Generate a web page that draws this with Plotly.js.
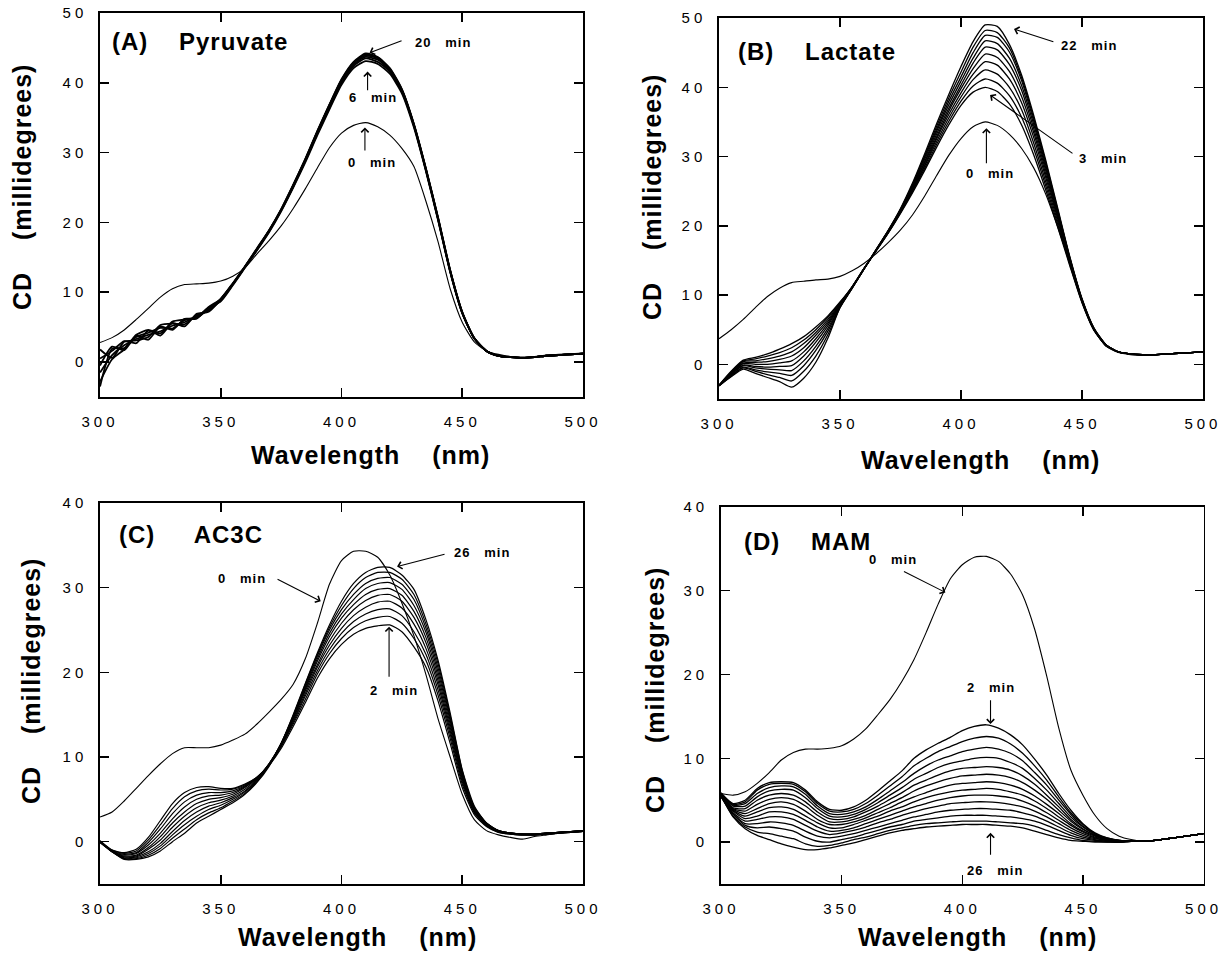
<!DOCTYPE html>
<html><head><meta charset="utf-8">
<script src="https://cdn.plot.ly/plotly-3.0.1.min.js"></script>
<style>
html,body{margin:0;padding:0;background:#fff;}
#chart{width:1226px;height:954px;}
.xaxislayer-above text, .yaxislayer-above text {letter-spacing:4px;}
.annotation-text {letter-spacing:1px;}
</style></head><body><div id="chart"></div><script>
// ---------- DATA ----------
const wavelengthNm = [300,305,310,315,320,325,330,335,340,345,350,355,360,365,370,375,380,385,390,395,400,405,410,415,420,425,430,435,440,445,450,455,460,465,470,475,480,485,490,495,500];
const xTickVals = [300,350,400,450,500];
const xTickText = ['300','350','400','450','500'];
const yTickValsAB = [0,10,20,30,40,50];
const yTickTextAB = ['0','10','20','30','40','50'];
const yTickValsCD = [0,10,20,30,40];
const yTickTextCD = ['0','10','20','30','40'];

// (A) Pyruvate
const pyruvate0min = [2.8,3.5,4.6,6.1,7.7,9.3,10.5,11.1,11.2,11.3,11.6, 12.3,13.5,15.5,17.4,19.5,22.0,24.8,27.8,30.7,32.8, 33.9,34.3,33.7,32.5,30.6,28.0,23.0,17.2,10.5,5.7, 2.9,1.6,1.1,0.8,0.7,0.8,1.0,1.1,1.2,1.3];
const pyruvateRuns = [
 [-2.8,0.4,1.8,3.8,3.2,5.1,4.6,6.2,6.2,7.8,8.7, 11.0,13.5,16.0,18.6,21.6,25.0,28.6,32.5,36.2,39.7, 42.1,43.1,42.7,41.3,38.5,33.6,27.3,20.3,12.9,7.0, 3.4,1.6,0.9,0.7,0.6,0.7,0.9,1.0,1.1,1.2],
 [0.5,1.6,3.0,2.7,4.5,3.8,5.6,5.1,6.9,7.2,9.0, 11.3,13.7,16.1,18.7,21.7,25.1,28.8,32.7,36.4,40.0, 42.4,43.5,43.0,41.6,38.7,33.8,27.4,20.4,13.0,7.0, 3.4,1.6,0.9,0.7,0.6,0.7,0.9,1.0,1.1,1.2],
 [-3.5,1.9,2.0,3.6,4.2,4.9,4.8,6.0,6.3,7.6,9.1, 11.2,13.6,16.1,18.8,21.8,25.2,28.9,32.8,36.6,40.2, 42.6,43.7,43.3,41.8,38.9,33.9,27.5,20.5,13.0,7.1, 3.4,1.6,0.9,0.7,0.6,0.7,0.9,1.0,1.1,1.2],
 [1.8,0.6,2.9,3.1,3.6,5.3,5.5,5.4,6.7,7.5,8.8, 11.1,13.6,16.2,18.8,21.8,25.3,29.0,33.0,36.8,40.3, 42.8,43.9,43.5,41.9,39.0,34.0,27.6,20.6,13.1,7.1, 3.4,1.6,0.9,0.7,0.6,0.7,0.9,1.0,1.1,1.2],
 [-0.5,2.2,1.7,3.9,4.6,4.1,5.8,6.1,6.4,7.9,9.0, 11.2,13.7,16.3,18.9,21.9,25.4,29.1,33.1,36.9,40.5, 43.0,44.2,43.7,42.1,39.1,34.1,27.7,20.7,13.2,7.2, 3.4,1.6,0.9,0.7,0.6,0.7,0.9,1.0,1.1,1.2],
 [-1.5,1.0,2.4,3.3,3.9,4.4,5.2,5.7,6.6,7.4,8.9, 11.2,13.6,16.2,18.8,21.8,25.3,29.0,33.0,36.8,40.4, 42.9,44.1,43.6,42.0,39.0,34.0,27.6,20.6,13.1,7.1, 3.4,1.6,0.9,0.7,0.6,0.7,0.9,1.0,1.1,1.2]
];

// (B) Lactate
const lactate0min = [3.7,5.0,6.5,8.2,9.8,11.0,11.8,12.0,12.2,12.3,12.7, 13.5,14.6,16.0,17.6,19.4,21.6,24.3,27.3,30.2,32.6, 34.3,35.0,34.5,33.2,31.2,28.4,24.6,19.8,14.6,9.3, 5.0,2.6,1.7,1.4,1.3,1.3,1.5,1.6,1.7,1.8];
const lactateRuns = [
 [-3.0,-1.0,0.6,1.0,1.5,2.2,3.0,4.0,5.4,7.0,9.0, 11.2,13.9,16.4,19.0,21.8,24.8,28.0,31.4,34.6,37.4, 39.3,40.0,39.4,37.6,34.6,30.3,25.2,19.8,14.2,8.9, 4.9,2.7,1.8,1.5,1.4,1.4,1.5,1.6,1.7,1.8],
 [-3.0,-1.1,0.5,0.8,1.2,1.7,2.4,3.5,5.0,6.8,8.9, 11.2,13.9,16.4,19.0,21.9,25.0,28.3,31.8,35.1,38.0, 40.2,41.2,40.6,38.8,35.7,31.2,25.8,20.2,14.4,9.0, 4.9,2.7,1.8,1.5,1.4,1.4,1.5,1.6,1.7,1.8],
 [-3.1,-1.2,0.4,0.5,0.8,1.2,1.8,3.0,4.6,6.5,8.8, 11.2,13.9,16.5,19.1,22.0,25.1,28.6,32.2,35.6,38.6, 41.1,42.5,41.9,40.0,36.8,32.0,26.4,20.6,14.6,9.1, 5.0,2.7,1.8,1.5,1.4,1.4,1.5,1.6,1.7,1.8],
 [-3.1,-1.3,0.2,0.3,0.4,0.7,1.2,2.4,4.2,6.2,8.7, 11.1,13.9,16.5,19.1,22.0,25.3,28.8,32.6,36.1,39.2, 41.9,43.7,43.2,41.2,37.8,32.8,27.0,21.0,14.8,9.1, 5.0,2.7,1.8,1.5,1.4,1.4,1.5,1.6,1.7,1.8],
 [-3.0,-1.4,0.1,0.0,0.0,0.2,0.5,1.8,3.7,5.9,8.6, 11.1,13.8,16.5,19.2,22.1,25.4,29.1,32.9,36.6,39.8, 42.7,44.8,44.3,42.3,38.7,33.5,27.5,21.3,14.9,9.2, 5.0,2.8,1.8,1.5,1.4,1.4,1.5,1.6,1.7,1.8],
 [-3.1,-1.4,-0.1,-0.3,-0.4,-0.3,-0.2,1.2,3.2,5.6,8.5, 11.1,13.8,16.5,19.2,22.2,25.6,29.3,33.3,37.0,40.3, 43.5,45.8,45.4,43.3,39.6,34.1,28.0,21.6,15.1,9.3, 5.1,2.8,1.8,1.5,1.4,1.4,1.5,1.6,1.7,1.8],
 [-3.1,-1.5,-0.2,-0.5,-0.7,-0.8,-0.9,0.5,2.6,5.2,8.4, 11.0,13.8,16.6,19.3,22.3,25.7,29.6,33.7,37.5,40.9, 44.2,46.7,46.3,44.2,40.3,34.7,28.4,21.8,15.2,9.3, 5.1,2.8,1.8,1.5,1.4,1.4,1.5,1.6,1.7,1.8],
 [-3.0,-1.6,-0.4,-0.8,-1.1,-1.3,-1.6,-0.2,2.0,4.8,8.3, 11.0,13.8,16.6,19.3,22.3,25.9,29.9,34.0,38.0,41.5, 45.0,47.5,47.2,45.1,41.0,35.2,28.8,22.1,15.3,9.4, 5.1,2.8,1.8,1.5,1.4,1.4,1.5,1.6,1.7,1.8],
 [-3.1,-1.7,-0.5,-1.0,-1.5,-1.9,-2.4,-1.0,1.2,4.3,8.2, 11.0,13.8,16.6,19.4,22.4,26.0,30.1,34.4,38.5,42.2, 45.8,48.2,47.9,45.7,41.4,35.6,29.2,22.3,15.4,9.4, 5.2,2.8,1.8,1.5,1.4,1.4,1.5,1.6,1.7,1.8],
 [-3.1,-1.8,-0.7,-1.3,-1.9,-2.5,-3.3,-2.0,0.3,3.8,8.2, 11.0,13.8,16.6,19.4,22.5,26.2,30.4,34.8,39.0,43.0, 46.6,49.0,48.8,46.2,41.8,36.0,29.5,22.5,15.5,9.5, 5.2,2.8,1.8,1.5,1.4,1.4,1.5,1.6,1.7,1.8]
];

// (C) AC3C
const ac3c0min = [2.9,3.5,4.8,6.3,7.8,9.2,10.4,11.1,11.1,11.1,11.4, 12.0,12.7,13.9,15.3,16.8,18.6,21.6,25.8,30.4,33.2, 34.3,34.3,33.6,31.5,28.2,24.3,19.7,14.5,10.0,5.6, 2.6,1.3,0.8,0.5,0.3,0.6,0.8,1.0,1.1,1.2];
const ac3cRuns = [
 [0.0,-1.0,-1.3,-0.9,0.5,2.5,4.5,5.8,6.4,6.5,6.3, 6.3,6.8,7.6,9.0,11.0,13.6,16.4,19.3,21.6,23.3, 24.5,25.2,25.5,25.6,24.8,23.0,20.6,16.6,11.6,6.4, 3.2,1.8,1.1,0.9,0.8,0.8,0.9,1.0,1.1,1.2],
 [0.1,-1.0,-1.4,-1.1,0.2,2.0,3.9,5.3,6.0,6.2,6.1, 6.2,6.7,7.6,9.1,11.2,13.9,16.8,19.8,22.2,24.0, 25.3,26.1,26.5,26.6,25.8,24.0,21.4,17.3,12.2,6.8, 3.4,1.9,1.1,0.9,0.8,0.8,0.9,1.0,1.1,1.2],
 [0.0,-1.1,-1.5,-1.3,-0.1,1.5,3.3,4.7,5.5,5.8,5.8, 6.0,6.6,7.6,9.1,11.3,14.1,17.2,20.2,22.7,24.6, 26.0,26.9,27.4,27.5,26.7,24.8,22.1,17.9,12.7,7.1, 3.5,1.9,1.2,0.9,0.8,0.8,0.9,1.0,1.1,1.2],
 [-0.1,-1.1,-1.6,-1.4,-0.4,1.0,2.7,4.1,5.0,5.4,5.5, 5.8,6.5,7.5,9.2,11.4,14.3,17.5,20.6,23.2,25.2, 26.7,27.7,28.3,28.4,27.6,25.7,22.8,18.5,13.1,7.4, 3.6,2.0,1.2,1.0,0.8,0.8,0.9,1.0,1.1,1.2],
 [0.0,-1.1,-1.7,-1.6,-0.7,0.6,2.2,3.5,4.5,5.0,5.2, 5.6,6.4,7.5,9.2,11.5,14.5,17.8,20.9,23.7,25.8, 27.4,28.5,29.1,29.2,28.4,26.5,23.5,19.0,13.5,7.6, 3.7,2.0,1.2,1.0,0.9,0.8,1.0,1.1,1.2,1.3],
 [0.1,-1.2,-1.8,-1.7,-0.9,0.2,1.7,3.0,4.0,4.6,4.9, 5.4,6.2,7.4,9.2,11.6,14.6,18.0,21.3,24.2,26.4, 28.0,29.2,29.8,29.9,29.1,27.2,24.1,19.5,13.9,7.8, 3.8,2.1,1.2,1.0,0.9,0.9,1.0,1.1,1.2,1.3],
 [0.0,-1.1,-1.9,-1.8,-1.2,-0.2,1.2,2.5,3.5,4.2,4.6, 5.2,6.0,7.3,9.1,11.6,14.7,18.2,21.6,24.6,26.9, 28.6,29.9,30.5,30.6,29.8,27.9,24.7,20.0,14.3,8.0, 3.9,2.1,1.3,1.0,0.9,0.9,1.0,1.1,1.2,1.3],
 [-0.1,-1.2,-2.0,-1.9,-1.4,-0.5,0.8,2.0,3.0,3.8,4.3, 5.0,5.9,7.2,9.1,11.6,14.8,18.4,21.9,25.0,27.4, 29.2,30.5,31.1,31.2,30.4,28.6,25.2,20.5,14.6,8.2, 4.0,2.2,1.3,1.0,0.9,0.9,1.0,1.1,1.2,1.3],
 [0.0,-1.2,-2.0,-2.0,-1.6,-0.8,0.4,1.5,2.6,3.4,4.0, 4.8,5.7,7.1,9.0,11.6,14.9,18.6,22.1,25.3,27.9, 29.9,31.2,31.8,31.8,31.0,29.2,25.7,21.0,14.9,8.4, 4.1,2.2,1.3,1.0,0.9,0.9,1.0,1.1,1.2,1.3],
 [0.0,-1.2,-2.1,-2.1,-1.8,-1.1,0.0,1.0,2.2,3.0,3.8, 4.6,5.6,7.0,8.9,11.6,15.0,18.7,22.3,25.6,28.4, 30.5,31.8,32.4,32.4,31.5,29.8,26.2,21.4,15.2,8.5, 4.2,2.2,1.3,1.0,0.9,0.9,1.0,1.1,1.2,1.3]
];

// (D) MAM
const mam0min = [5.8,5.6,6.0,7.0,8.3,9.8,10.7,11.1,11.1,11.2,11.5, 12.3,13.5,15.2,17.0,19.2,21.8,25.0,28.4,31.4,33.1, 34.0,34.1,33.5,32.0,29.5,25.4,19.8,13.6,8.6,5.6, 3.2,1.6,0.7,0.3,0.1,0.2,0.4,0.6,0.8,1.0];
const mamRuns = [
 [5.8,4.6,5.0,6.4,7.1,7.2,7.1,6.2,4.8,3.9,3.8, 4.2,5.0,6.1,7.3,8.5,10.0,11.0,11.8,12.5,13.3, 13.8,14.0,13.6,12.8,11.6,9.9,8.0,5.8,3.8,2.2, 1.1,0.5,0.2,0.1,0.1,0.2,0.4,0.6,0.8,1.0],
 [5.9,4.5,4.8,6.2,6.9,7.0,6.9,6.0,4.6,3.7,3.6, 3.9,4.6,5.6,6.7,7.8,9.1,10.0,10.8,11.4,12.0, 12.4,12.6,12.4,11.7,10.6,9.1,7.4,5.4,3.5,2.1, 1.0,0.5,0.2,0.1,0.1,0.2,0.4,0.6,0.8,1.0],
 [5.7,4.4,4.6,5.8,6.5,6.7,6.6,5.7,4.3,3.4,3.3, 3.6,4.2,5.1,6.1,7.1,8.2,9.1,9.8,10.3,10.8, 11.1,11.3,11.1,10.6,9.7,8.3,6.8,5.0,3.3,1.9, 1.0,0.4,0.2,0.1,0.1,0.2,0.4,0.6,0.8,1.0],
 [5.8,4.3,4.3,5.4,6.1,6.3,6.2,5.3,4.0,3.1,3.0, 3.3,3.9,4.7,5.6,6.5,7.5,8.2,8.9,9.4,9.7, 10.0,10.1,10.0,9.5,8.8,7.6,6.2,4.6,3.0,1.8, 0.9,0.4,0.2,0.1,0.1,0.2,0.4,0.6,0.8,1.0],
 [5.6,4.1,4.0,5.0,5.6,5.8,5.6,4.8,3.6,2.8,2.7, 3.0,3.6,4.3,5.1,5.9,6.8,7.4,8.0,8.5,8.8, 8.9,9.0,8.9,8.6,7.9,6.9,5.6,4.2,2.7,1.6, 0.8,0.4,0.1,0.1,0.1,0.2,0.4,0.6,0.8,1.0],
 [5.7,4.0,3.7,4.5,5.1,5.3,5.1,4.3,3.2,2.4,2.4, 2.7,3.2,3.9,4.6,5.3,6.1,6.7,7.2,7.6,7.9, 8.0,8.1,8.0,7.7,7.1,6.2,5.1,3.8,2.5,1.5, 0.8,0.3,0.1,0.1,0.1,0.2,0.4,0.6,0.8,1.0],
 [5.5,3.9,3.4,4.0,4.6,4.8,4.5,3.7,2.7,2.1,2.1, 2.4,2.9,3.5,4.1,4.8,5.4,5.9,6.4,6.8,7.0, 7.1,7.2,7.1,6.8,6.3,5.5,4.5,3.4,2.2,1.3, 0.7,0.3,0.1,0.1,0.1,0.2,0.4,0.6,0.8,1.0],
 [5.6,3.8,3.1,3.6,4.1,4.2,3.9,3.1,2.3,1.7,1.7, 2.1,2.6,3.1,3.7,4.2,4.8,5.3,5.7,6.0,6.2, 6.3,6.4,6.3,6.0,5.6,4.9,4.0,3.0,2.0,1.2, 0.6,0.3,0.1,0.1,0.1,0.2,0.4,0.6,0.8,1.0],
 [5.4,3.7,2.8,3.1,3.6,3.6,3.3,2.6,1.8,1.3,1.4, 1.7,2.2,2.7,3.2,3.7,4.2,4.6,5.0,5.3,5.5, 5.6,5.6,5.5,5.3,4.9,4.3,3.5,2.6,1.7,1.0, 0.5,0.2,0.1,0.1,0.1,0.2,0.4,0.6,0.8,1.0],
 [5.5,3.5,2.5,2.7,3.0,3.0,2.7,2.0,1.3,0.9,1.1, 1.4,1.8,2.3,2.7,3.2,3.6,4.0,4.3,4.6,4.7, 4.8,4.8,4.7,4.5,4.2,3.7,3.0,2.2,1.4,0.8, 0.4,0.2,0.0,0.1,0.1,0.2,0.4,0.6,0.8,1.0],
 [5.6,3.4,2.2,2.2,2.4,2.3,2.0,1.3,0.7,0.5,0.7, 1.0,1.4,1.8,2.2,2.6,3.0,3.3,3.6,3.8,3.9, 4.0,4.0,3.9,3.8,3.5,3.1,2.5,1.8,1.1,0.6, 0.3,0.1,0.0,0.1,0.1,0.2,0.4,0.6,0.8,1.0],
 [5.4,3.3,2.0,1.7,1.8,1.6,1.3,0.6,0.1,0.0,0.3, 0.6,1.0,1.4,1.8,2.1,2.5,2.7,2.9,3.1,3.2, 3.2,3.2,3.1,3.0,2.8,2.5,2.0,1.4,0.8,0.4, 0.2,0.1,0.0,0.1,0.1,0.2,0.4,0.6,0.8,1.0],
 [5.5,3.1,1.8,1.2,1.0,0.7,0.4,-0.2,-0.5,-0.4,-0.1, 0.3,0.6,1.0,1.4,1.7,2.0,2.2,2.3,2.4,2.5, 2.5,2.5,2.4,2.3,2.2,1.9,1.4,0.9,0.5,0.2, 0.1,0.0,0.0,0.1,0.1,0.2,0.4,0.6,0.8,1.0],
 [5.5,3.0,1.6,0.8,0.3,-0.2,-0.6,-0.9,-0.9,-0.7,-0.4, -0.1,0.3,0.7,1.1,1.4,1.6,1.8,1.9,2.0,2.1, 2.1,2.1,2.0,1.9,1.7,1.3,0.9,0.5,0.2,0.1, 0.0,0.0,0.0,0.1,0.1,0.2,0.4,0.6,0.8,1.0]
];

const panelTitles = ['(A)\u00A0\u00A0\u00A0\u00A0Pyruvate','(B)\u00A0\u00A0\u00A0\u00A0Lactate','(C)\u00A0\u00A0\u00A0\u00A0\u00A0AC3C','(D)\u00A0\u00A0\u00A0\u00A0MAM'];
const xTitle = 'Wavelength\u00A0\u00A0\u00A0\u00A0(nm)';
const yTitle = 'CD\u00A0\u00A0\u00A0\u00A0(millidegrees)';

// ---------- BUILD ----------
const traces = [];
function addLines(runs, xa, ya, width){
  runs.forEach(y => traces.push({type:'scatter', mode:'lines', x:wavelengthNm, y:y, xaxis:xa, yaxis:ya,
    line:{color:'#000', width:width, shape:'spline', smoothing:0.6}, hoverinfo:'skip', showlegend:false}));
}
addLines([pyruvate0min],'x','y',1.1); addLines(pyruvateRuns,'x','y',1.8);
addLines([lactate0min],'x2','y2',1.1); addLines(lactateRuns,'x2','y2',1.3);
addLines([ac3c0min],'x3','y3',1.1); addLines(ac3cRuns,'x3','y3',1.2);
addLines([mam0min],'x4','y4',1.1); addLines(mamRuns,'x4','y4',1.3);

function xAx(domain, anchor){
  return {domain:domain, anchor:anchor, range:[300,500], tickmode:'array', tickvals:xTickVals, ticktext:xTickText,
    ticks:'inside', ticklen:9, tickwidth:1.5, tickcolor:'#000', showline:true, linewidth:1.8, linecolor:'#000',
    mirror:'ticks', showgrid:false, zeroline:false, tickfont:{size:15, color:'#000'}, ticklabelstandoff:10, fixedrange:true};
}
function yAx(domain, anchor, range, tv, tt){
  return {domain:domain, anchor:anchor, range:range, tickmode:'array', tickvals:tv, ticktext:tt,
    ticks:'inside', ticklen:9, tickwidth:1.5, tickcolor:'#000', showline:true, linewidth:1.8, linecolor:'#000',
    mirror:'ticks', showgrid:false, zeroline:false, tickfont:{size:15, color:'#000'}, ticklabelstandoff:8, fixedrange:true};
}

const ann = [];
function arrow(xa, ya, tipX, tipY, tailX, tailY){
  ann.push({xref:xa, yref:ya, axref:xa, ayref:ya, x:tipX, y:tipY, ax:tailX, ay:tailY, text:'', showarrow:true,
    arrowhead:4, arrowsize:1.3, arrowwidth:1.1, arrowcolor:'#000', standoff:0, startstandoff:0});
}
function label(xa, ya, x, y, text, size, anchor){
  ann.push({xref:xa, yref:ya, x:x, y:y, text:text, showarrow:false, xanchor:anchor||'center', yanchor:'middle',
    font:{size:size, color:'#000', family:'Liberation Sans, Arial, sans-serif', weight:'bold'}});
}
const sp = '\u00A0\u00A0\u00A0';
// panel A
label('x','y',304.1,45.9,panelTitles[0],24,'left');
arrow('x','y',411.6,44.3,425.5,46.1); label('x','y',442.0,45.7,'20'+sp+'min',13);
arrow('x','y',410.8,41.6,410.8,38.7); label('x','y',413.0,37.9,'6'+sp+'min',13);
arrow('x','y',409.7,33.6,409.7,30.1); label('x','y',412.6,28.6,'0'+sp+'min',13);
// panel B
label('x2','y2',307.0,45.1,panelTitles[1],24,'left');
arrow('x2','y2',421.9,48.4,438.8,46.5); label('x2','y2',452.9,46.1,'22'+sp+'min',13);
arrow('x2','y2',412.0,38.9,446.7,30.3); label('x2','y2',458.7,29.7,'3'+sp+'min',13);
arrow('x2','y2',410.5,34.1,410.5,28.8); label('x2','y2',412.0,27.5,'0'+sp+'min',13);
// panel C
label('x3','y3',307.0,36.3,panelTitles[2],24,'left');
arrow('x3','y3',423.0,32.5,443.3,34.0); label('x3','y3',458.2,34.2,'26'+sp+'min',13);
arrow('x3','y3',391.4,28.4,372.9,31.1); label('x3','y3',358.8,31.1,'0'+sp+'min',13);
arrow('x3','y3',419.7,25.4,419.7,19.3); label('x3','y3',421.7,17.8,'2'+sp+'min',13);
// panel D
label('x4','y4',308.7,35.9,panelTitles[3],24,'left');
arrow('x4','y4',393.0,29.8,375.2,32.4); label('x4','y4',371.3,33.7,'0'+sp+'min',13);
arrow('x4','y4',411.7,14.1,411.7,17.1); label('x4','y4',411.9,18.4,'2'+sp+'min',13);
arrow('x4','y4',411.7,1.1,411.7,-1.7); label('x4','y4',413.6,-3.4,'26'+sp+'min',13);

// axis titles (placed in paper coordinates)
function ptitle(x, y, text, angle){
  ann.push({xref:'paper', yref:'paper', x:x, y:y, text:text, showarrow:false, xanchor:'center', yanchor:'middle', textangle:angle,
    font:{size:25, color:'#000', family:'Liberation Sans, Arial, sans-serif', weight:'bold'}});
}
ptitle(370/1226, 1-455/954, xTitle, 0);
ptitle(980/1226, 1-460/954, xTitle, 0);
ptitle(357/1226, 1-937/954, xTitle, 0);
ptitle(977/1226, 1-937/954, xTitle, 0);
ptitle(22/1226, 1-187/954, yTitle, -90);
ptitle(652/1226, 1-197/954, yTitle, -90);
ptitle(31/1226, 1-681/954, yTitle, -90);
ptitle(655/1226, 1-690/954, yTitle, -90);

const layout = {
  width:1226, height:954, margin:{l:0,r:0,t:0,b:0}, paper_bgcolor:'#fff', plot_bgcolor:'#fff', showlegend:false,
  font:{family:'Liberation Sans, Arial, sans-serif', color:'#000'},
  xaxis: xAx([0.0816,0.4755],'y'),  yaxis: yAx([0.5839,0.9864],'x',[-5,50],yTickValsAB,yTickTextAB),
  xaxis2: xAx([0.5865,0.9812],'y2'), yaxis2: yAx([0.5818,0.9811],'x2',[-5,50],yTickValsAB,yTickTextAB),
  xaxis3: xAx([0.0816,0.4755],'y3'), yaxis3: yAx([0.0734,0.4727],'x3',[-5,40],yTickValsCD,yTickTextCD),
  xaxis4: xAx([0.5881,0.9817],'y4'), yaxis4: yAx([0.0734,0.4686],'x4',[-5,40],yTickValsCD,yTickTextCD),
  annotations: ann
};
Plotly.newPlot('chart', traces, layout, {staticPlot:true, displayModeBar:false});
</script></body></html>
